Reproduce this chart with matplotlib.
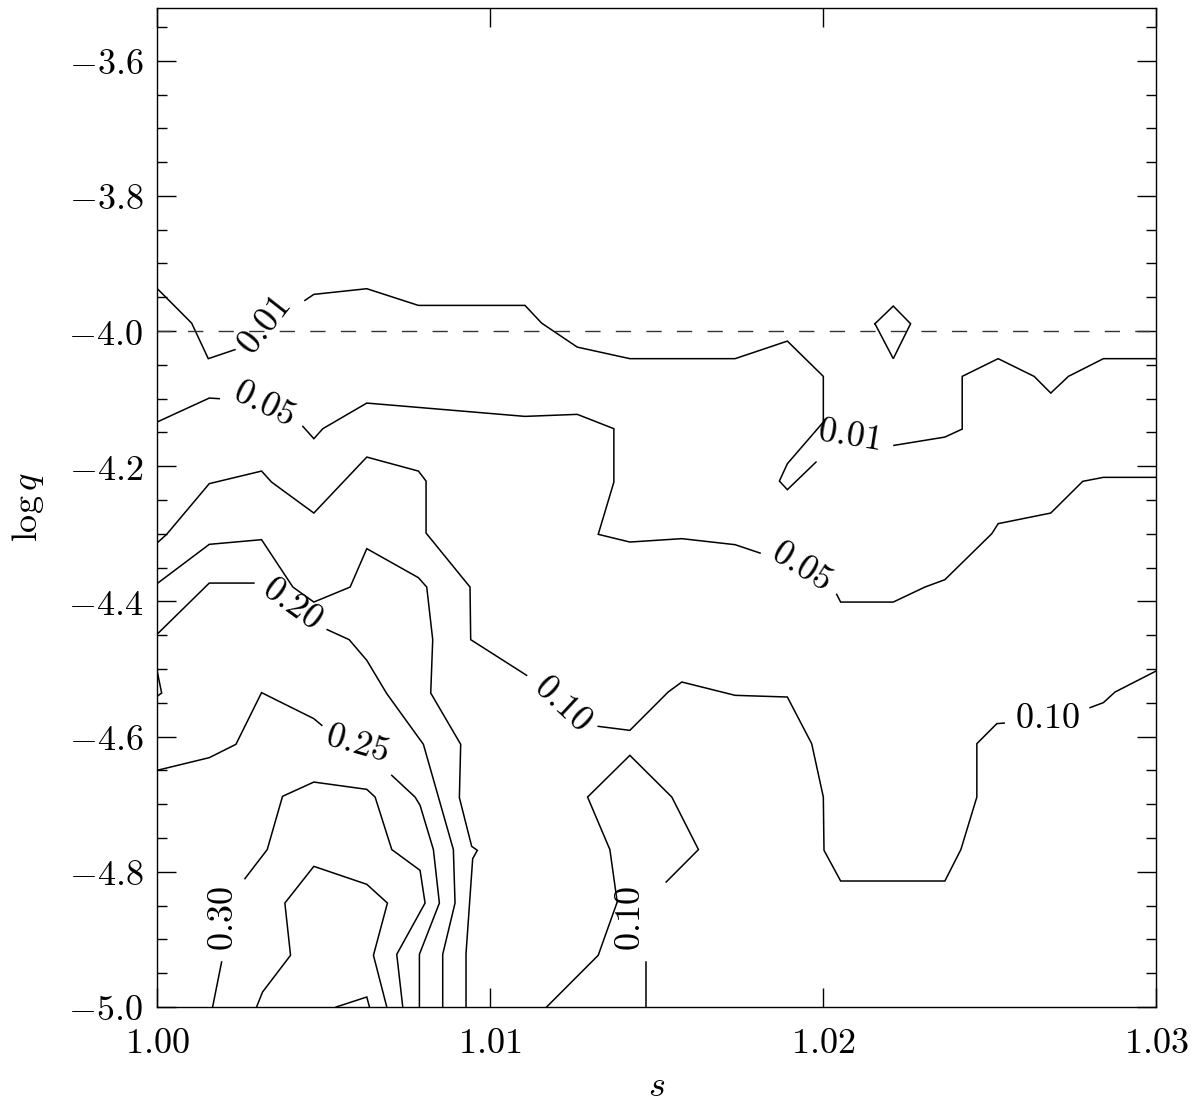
import matplotlib
matplotlib.use("Agg")
import matplotlib.pyplot as plt
from matplotlib.ticker import MultipleLocator, FuncFormatter

# contour paths (s, log q), one list pair per drawn piece
c001_a_s = [1.0, 1.00104, 1.00154, 1.00234]
c001_a_q = [-3.9368, -3.9882, -4.0408, -4.0275]
c001_b_s = [1.00444, 1.00471, 1.00630, 1.00785, 1.01105, 1.01155, 1.01262, 1.01420, 1.01736,
            1.01893, 1.02001, 1.02001, 1.01893, 1.01869, 1.01893, 1.01979]
c001_b_q = [-3.9546, -3.9457, -3.9373, -3.9620, -3.9620, -3.9882, -4.0237, -4.0408, -4.0408,
            -4.0148, -4.0670, -4.1346, -4.1962, -4.2219, -4.2346, -4.1938]
c001_c_s = [1.02213, 1.02366, 1.02418, 1.02418, 1.02526, 1.02634, 1.02684, 1.02737, 1.02842, 1.03]
c001_c_q = [-4.1691, -4.1568, -4.1450, -4.0670, -4.0408, -4.0670, -4.0917, -4.0670, -4.0408, -4.0408]
c001_d_s = [1.02156, 1.02211, 1.02263, 1.02211, 1.02156]
c001_d_q = [-3.9891, -3.9630, -3.9891, -4.0408, -3.9891]

c005_a_s = [1.0, 1.00157, 1.00187]
c005_a_q = [-4.1346, -4.0991, -4.1000]
c005_b_s = [1.00438, 1.00471, 1.00498, 1.00630, 1.01105, 1.01262, 1.01372, 1.01372, 1.01325,
            1.01420, 1.01576, 1.01736, 1.01811]
c005_b_q = [-4.1410, -4.1592, -4.1444, -4.1065, -4.1262, -4.1232, -4.1444, -4.2234, -4.3007,
            -4.3121, -4.3071, -4.3160, -4.3284]
c005_c_s = [1.02041, 1.02053, 1.02211, 1.02306, 1.02366, 1.02507, 1.02526, 1.02684, 1.02780,
            1.02842, 1.03]
c005_c_q = [-4.3895, -4.4009, -4.4009, -4.3787, -4.3678, -4.2997, -4.2849, -4.2692, -4.2223,
            -4.2164, -4.2164]

c010_a_s = [1.0, 1.00029, 1.00157, 1.00314, 1.00344, 1.00471, 1.00630, 1.00785, 1.00808,
            1.00808, 1.00940, 1.00942, 1.01110]
c010_a_q = [-4.3136, -4.3007, -4.2257, -4.2071, -4.2234, -4.2692, -4.1864, -4.2071, -4.2219,
            -4.2988, -4.3787, -4.4565, -4.5093]
c010_b_s = [1.01325, 1.01420, 1.01535, 1.01576, 1.01736, 1.01893, 1.01966, 1.02001, 1.02003,
            1.02053, 1.02366, 1.02414, 1.02462, 1.02462, 1.02522, 1.02544]
c010_b_q = [-4.5848, -4.5907, -4.5340, -4.5192, -4.5389, -4.5414, -4.6104, -4.6894, -4.7682,
            -4.8136, -4.8136, -4.7671, -4.6894, -4.6104, -4.5808, -4.5799]
c010_c_s = [1.02802, 1.02842, 1.02877, 1.03]
c010_c_q = [-4.5571, -4.5497, -4.5340, -4.5030]
c010_d_s = [1.01170, 1.01325, 1.01382, 1.01360, 1.01293, 1.01420, 1.01546, 1.01626, 1.01529]
c010_d_q = [-5.0, -4.9235, -4.8447, -4.7671, -4.6894, -4.6277, -4.6894, -4.7671, -4.8151]
c010_e_s = [1.01468, 1.01468]
c010_e_q = [-4.9334, -5.0]

c015_s = [1.0, 1.00157, 1.00314, 1.00408, 1.00471, 1.00580, 1.00630, 1.00785, 1.00810, 1.00828,
          1.00822, 1.00912, 1.00908, 1.00945, 1.00962, 1.00948, 1.00928, 1.00928]
c015_q = [-4.3737, -4.3155, -4.3086, -4.3787, -4.4009, -4.3787, -4.3219, -4.3648, -4.3787,
          -4.4565, -4.5355, -4.6114, -4.6902, -4.7623, -4.7682, -4.7805, -4.9210, -5.0]

c020_a_s = [1.0, 1.00157, 1.00291]
c020_a_q = [-4.4487, -4.3728, -4.3728]
c020_b_s = [1.00511, 1.00577, 1.00630, 1.00690, 1.00800, 1.00890, 1.00895, 1.00858, 1.00858]
c020_b_q = [-4.4417, -4.4565, -4.4871, -4.5364, -4.6114, -4.7671, -4.8462, -4.9221, -5.0]

c025_a_s = [1.0, 1.00157, 1.00237, 1.00314, 1.00471, 1.00495]
c025_a_q = [-4.6499, -4.6311, -4.6114, -4.5349, -4.5734, -4.5833]
c025_b_s = [1.00705, 1.00775, 1.00790, 1.00830, 1.00848, 1.00788, 1.00788]
c025_b_q = [-4.6573, -4.6894, -4.7016, -4.7671, -4.8462, -4.9221, -5.0]
c025_c_s = [1.0, 1.00014, 1.0]
c025_c_q = [-4.5019, -4.5355, -4.5404]

c030_a_s = [1.00167, 1.00194]
c030_a_q = [-5.0, -4.9334]
c030_b_s = [1.00264, 1.00331, 1.00377, 1.00471, 1.00630, 1.00655, 1.00705, 1.00790, 1.00805,
            1.00720, 1.00738]
c030_b_q = [-4.8101, -4.7671, -4.6883, -4.6672, -4.6780, -4.6894, -4.7671, -4.7978, -4.8462,
            -4.9221, -5.0]

c035_s = [1.00299, 1.00317, 1.00401, 1.00384, 1.00471, 1.00630, 1.00692, 1.00650, 1.00690]
c035_q = [-5.0, -4.9778, -4.9235, -4.8462, -4.7919, -4.8185, -4.8462, -4.9235, -5.0]

c040_s = [1.00538, 1.00630, 1.00638]
c040_q = [-5.0, -4.9852, -5.0]

# contour labels: text, s, log q, rotation
label_text = ["0.01", "0.05", "0.01", "0.05", "0.10", "0.10", "0.10", "0.20", "0.25", "0.30"]
label_s = [1.00321, 1.00321, 1.02078, 1.01937, 1.01219, 1.02674, 1.01420, 1.00405, 1.00602, 1.00197]
label_q = [-3.9916, -4.1070, -4.1543, -4.3466, -4.5507, -4.5729, -4.8688, -4.4021, -4.6099, -4.8688]
label_rot = [52, -26, -9, -32, -43, 0, 90, -36, -16, 90]

q_ref = -4.0

paths = [
    (c001_a_s, c001_a_q), (c001_b_s, c001_b_q), (c001_c_s, c001_c_q), (c001_d_s, c001_d_q),
    (c005_a_s, c005_a_q), (c005_b_s, c005_b_q), (c005_c_s, c005_c_q),
    (c010_a_s, c010_a_q), (c010_b_s, c010_b_q), (c010_c_s, c010_c_q),
    (c010_d_s, c010_d_q), (c010_e_s, c010_e_q),
    (c015_s, c015_q),
    (c020_a_s, c020_a_q), (c020_b_s, c020_b_q),
    (c025_a_s, c025_a_q), (c025_b_s, c025_b_q), (c025_c_s, c025_c_q),
    (c030_a_s, c030_a_q), (c030_b_s, c030_b_q),
    (c035_s, c035_q), (c040_s, c040_q),
]

plt.rcParams['font.family'] = ['DejaVu Serif']
plt.rcParams['mathtext.fontset'] = 'cm'

fig = plt.figure(figsize=(12, 11.04), dpi=100)
ax = fig.add_axes([157 / 1200, 97 / 1104, 999 / 1200, 999 / 1104])

for xs, ys in paths:
    ax.plot(xs, ys, color='black', lw=1.1, solid_joinstyle='miter')

ax.axhline(q_ref, color='#333333', lw=1.0, dashes=(11, 11))

for t, xs, ys, r in zip(label_text, label_s, label_q, label_rot):
    ax.text(xs, ys, '$' + t + '$', fontsize=26, rotation=r, ha='center', va='center',
            rotation_mode='anchor', color='black')

ax.set_xlim(1.0, 1.03)
ax.set_ylim(-5.0, -3.522)
ax.xaxis.set_major_locator(MultipleLocator(0.01))
ax.yaxis.set_major_locator(MultipleLocator(0.2))
ax.yaxis.set_minor_locator(MultipleLocator(0.05))
ax.xaxis.set_major_formatter(FuncFormatter(lambda v, p: '$%.2f$' % v))
ax.yaxis.set_major_formatter(FuncFormatter(lambda v, p: '$%.1f$' % v))
ax.tick_params(which='both', direction='in', top=True, right=True, labelsize=26, width=1)
ax.tick_params(which='major', length=14, pad=10)
ax.tick_params(axis='x', which='major', pad=14)
ax.tick_params(which='minor', length=7)
for sp in ax.spines.values():
    sp.set_linewidth(1.0)

ax.set_xlabel(r'$s$', fontsize=26, labelpad=6)
ax.set_ylabel(r'$\log q$', fontsize=26, labelpad=16)

fig.savefig('out.png', dpi=100)
